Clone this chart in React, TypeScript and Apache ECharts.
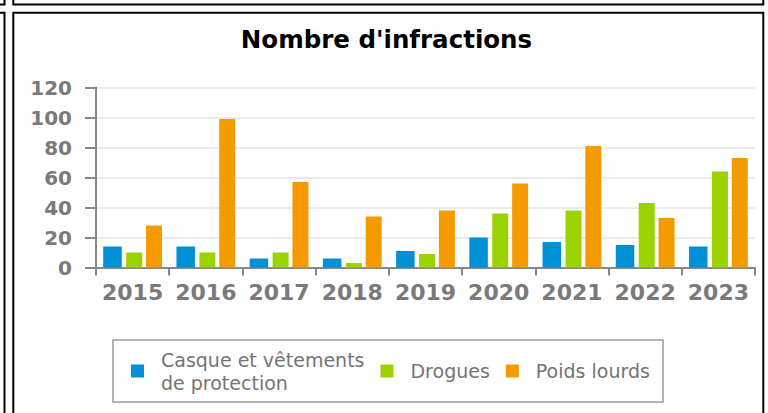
import React, { useEffect, useRef } from "react";
import * as echarts from "echarts";

const categories = ["2015", "2016", "2017", "2018", "2019", "2020", "2021", "2022", "2023"];
const seriesNames = ["Casque et vêtements\nde protection", "Drogues", "Poids lourds"];
const casque = [14, 14, 6, 6, 11, 20, 17, 15, 14];
const drogues = [10, 10, 10, 3, 9, 36, 38, 43, 64];
const poidsLourds = [28, 99, 57, 34, 38, 56, 81, 33, 73];
const colors = ["#0090d6", "#9bd300", "#f39b00"];
const barWidths = [18.5, 16, 16];

export default function App() {
  const ref = useRef<HTMLDivElement>(null);
  useEffect(() => {
    if (!ref.current) return;
    const chart = echarts.init(ref.current, null, { renderer: "svg" });
    const values = [casque, drogues, poidsLourds];
    const frame = { stroke: "#000", lineWidth: 2, fill: "none" };
    chart.setOption({
      animation: false,
      backgroundColor: "#fff",
      title: {
        text: "Nombre d'infractions",
        left: 386.5,
        textAlign: "center",
        top: 27,
        padding: 0,
        textStyle: { fontFamily: "DejaVu Sans", fontWeight: "bold", fontSize: 24.5, color: "#000" },
      },
      grid: { left: 96, top: 87.5, width: 659, height: 180, containLabel: false },
      xAxis: {
        type: "category",
        data: categories,
        boundaryGap: true,
        axisLine: { lineStyle: { color: "#888", width: 2 } },
        axisTick: { show: true, length: 8, lineStyle: { color: "#888", width: 2 } },
        axisLabel: {
          margin: 14,
          fontFamily: "DejaVu Sans",
          fontWeight: "bold",
          fontSize: 22,
          color: "#7a7a7a",
          interval: 0,
        },
      },
      yAxis: {
        type: "value",
        min: 0,
        max: 120,
        interval: 20,
        axisLine: { show: true, lineStyle: { color: "#888", width: 2 } },
        axisTick: { show: true, length: 11, lineStyle: { color: "#888", width: 2 } },
        splitLine: { lineStyle: { color: "#ebebeb", width: 2 } },
        axisLabel: {
          margin: 24,
          fontFamily: "DejaVu Sans",
          fontWeight: "bold",
          fontSize: 20,
          color: "#7a7a7a",
        },
      },
      legend: {
        left: 131,
        top: 348,
        padding: 0,
        itemWidth: 13,
        itemHeight: 13,
        itemGap: 16,
        icon: "rect",
        data: seriesNames,
        textStyle: {
          fontFamily: "DejaVu Sans",
          fontSize: 19,
          lineHeight: 23,
          color: "#747474",
          padding: [0, 0, 0, 12],
        },
      },
      graphic: [
        {
          type: "rect",
          shape: { x: 113, y: 340, width: 550, height: 62 },
          style: { stroke: "#9a9a9a", lineWidth: 1.5, fill: "none" },
          silent: true,
        },
        { type: "polyline", shape: { points: [[13.3, 420], [13.3, 12.8], [763.3, 12.8], [763.3, 420]] }, style: frame, silent: true },
        { type: "polyline", shape: { points: [[13.3, 0], [13.3, 4.5], [763.3, 4.5], [763.3, 0]] }, style: frame, silent: true },
        { type: "polyline", shape: { points: [[0, 4.5], [4.5, 4.5], [4.5, 0]] }, style: frame, silent: true },
        { type: "polyline", shape: { points: [[0, 12.8], [4.5, 12.8], [4.5, 420]] }, style: frame, silent: true },
      ],
      series: seriesNames.map((name, i) => ({
        name,
        type: "bar",
        data: values[i],
        barWidth: barWidths[i],
        barGap: "24%",
        itemStyle: { color: colors[i] },
      })),
    });
    return () => chart.dispose();
  }, []);
  return <div ref={ref} style={{ position: "absolute", left: 0, top: 0, width: 768, height: 413 }} />;
}
